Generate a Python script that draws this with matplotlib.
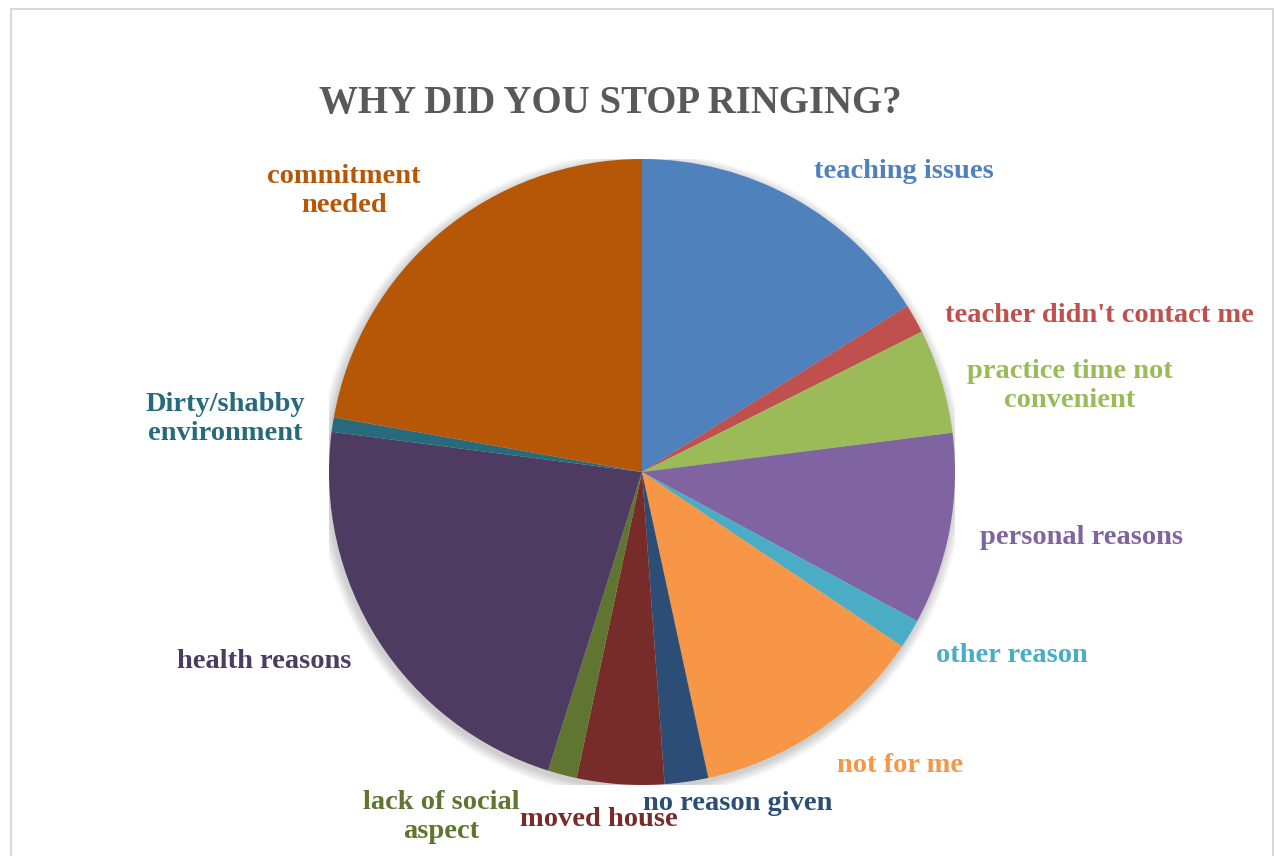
import numpy as np
import matplotlib
matplotlib.use("Agg")
import matplotlib.pyplot as plt
from matplotlib.patches import Rectangle, Circle

# survey answers, clockwise from 12 o'clock (percent of respondents)
reasons = ["teaching issues", "teacher didn't contact me", "practice time not\nconvenient",
           "personal reasons", "other reason", "not for me", "no reason given",
           "moved house", "lack of social\naspect", "health reasons",
           "Dirty/shabby\nenvironment", "commitment\nneeded"]
shares = [16.1, 1.5, 5.4, 9.9, 1.5, 12.2, 2.25, 4.5, 1.5, 22.2, 0.75, 22.2]

colors = ["#4F81BD", "#C0504D", "#9BBB59", "#8064A2", "#4BACC6", "#F79646",
          "#2C4D75", "#772C2A", "#5F7530", "#4D3B62", "#276A7C", "#B65708"]

# label centres in pixels (x, y from top)
label_px = [(904, 172), (1099, 315), (1070, 386), (1081, 538), (1012, 655),
            (900, 765), (738, 803), (599, 820), (441, 817), (264, 662),
            (225, 419), (344, 191)]

W, H = 1274, 856
cx, cy, r = 642, 472, 313

fig = plt.figure(figsize=(W / 100, H / 100), dpi=100)
fig.patch.set_facecolor("white")

# light chart-area frame
fig.patches.append(Rectangle((10.5 / W, -0.1), (1273 - 10.5) / W, 1.1 - 8.5 / H,
                             transform=fig.transFigure, fill=False,
                             edgecolor="#D9D9D9", linewidth=1.5))

ax = fig.add_axes([(cx - r) / W, (H - cy - r) / H, 2 * r / W, 2 * r / H])
ax.set_xlim(-1, 1)
ax.set_ylim(-1, 1)
ax.axis("off")

# soft shadow under the pie
for i in range(8):
    ax.add_patch(Circle((-0.005, -0.01), 1.0 + 0.004 * (i + 1), color="#000000",
                        alpha=0.025, linewidth=0, zorder=0))

ax.pie(shares, colors=colors, startangle=90, counterclock=False, radius=1.0,
       wedgeprops=dict(linewidth=0), center=(0, 0), frame=False)
ax.set_xlim(-1, 1)
ax.set_ylim(-1, 1)

for text, col, (px, py) in zip(reasons, colors, label_px):
    ax.text((px - cx) / r, (cy - py) / r, text, color=col, ha="center", va="center",
            fontsize=20.5, fontweight="bold", family="Liberation Serif",
            linespacing=1.25, clip_on=False)

fig.text(610 / W, 1 - 104 / H, "WHY DID YOU STOP RINGING?", ha="center", va="center",
         fontsize=28, fontweight="bold", family="Liberation Serif", color="#595959")

fig.savefig("out.png", dpi=100)
